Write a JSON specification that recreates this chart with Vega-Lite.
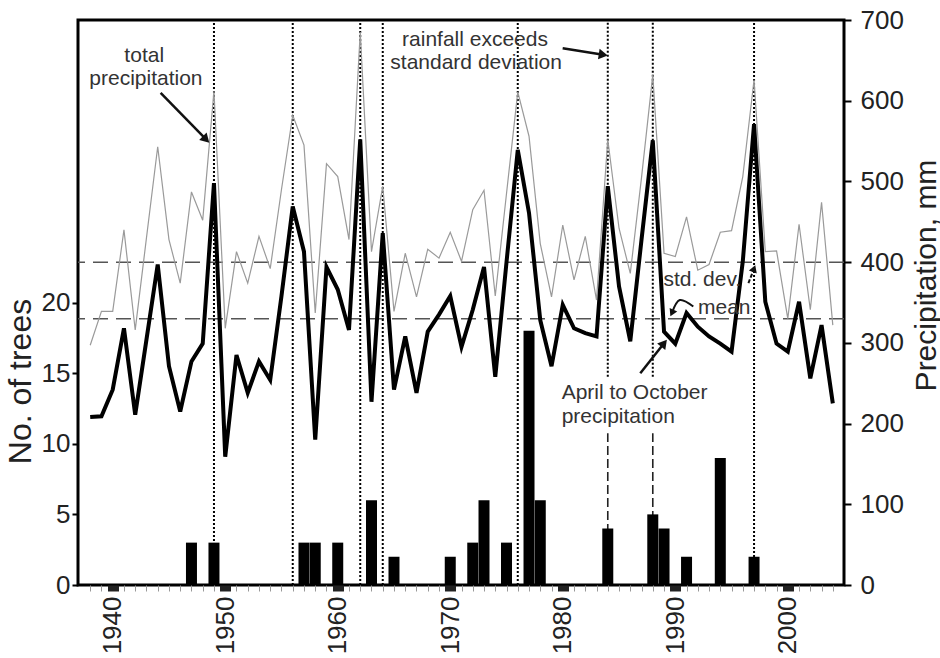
{
  "$schema": "https://vega.github.io/schema/vega-lite/v6.json",
  "width": 766,
  "height": 565,
  "autosize": {"type": "none"},
  "padding": {"left": 78, "top": 20, "right": 96, "bottom": 73},
  "background": "white",
  "config": {
    "font": "Liberation Sans",
    "view": {"stroke": "black", "strokeWidth": 3},
    "axis": {"labelColor": "#222", "titleColor": "#222", "titleFontWeight": "normal", "labelFont": "Liberation Sans", "titleFont": "Liberation Sans"}
  },
  "datasets": {
    "precip": [
      {"year": 1938, "total": 297, "aprOct": 208},
      {"year": 1939, "total": 339, "aprOct": 209},
      {"year": 1940, "total": 339, "aprOct": 242},
      {"year": 1941, "total": 440, "aprOct": 318},
      {"year": 1942, "total": 316, "aprOct": 211},
      {"year": 1943, "total": 430, "aprOct": 304},
      {"year": 1944, "total": 543, "aprOct": 397},
      {"year": 1945, "total": 428, "aprOct": 271},
      {"year": 1946, "total": 374, "aprOct": 215},
      {"year": 1947, "total": 487, "aprOct": 277},
      {"year": 1948, "total": 452, "aprOct": 299},
      {"year": 1949, "total": 612, "aprOct": 498},
      {"year": 1950, "total": 318, "aprOct": 159},
      {"year": 1951, "total": 413, "aprOct": 285},
      {"year": 1952, "total": 374, "aprOct": 238},
      {"year": 1953, "total": 432, "aprOct": 277},
      {"year": 1954, "total": 392, "aprOct": 254},
      {"year": 1955, "total": 490, "aprOct": 358},
      {"year": 1956, "total": 582, "aprOct": 469},
      {"year": 1957, "total": 545, "aprOct": 413},
      {"year": 1958, "total": 337, "aprOct": 180},
      {"year": 1959, "total": 522, "aprOct": 394},
      {"year": 1960, "total": 506, "aprOct": 366},
      {"year": 1961, "total": 428, "aprOct": 316},
      {"year": 1962, "total": 685, "aprOct": 552},
      {"year": 1963, "total": 413, "aprOct": 227},
      {"year": 1964, "total": 494, "aprOct": 436},
      {"year": 1965, "total": 339, "aprOct": 242},
      {"year": 1966, "total": 411, "aprOct": 308},
      {"year": 1967, "total": 357, "aprOct": 238},
      {"year": 1968, "total": 416, "aprOct": 314},
      {"year": 1969, "total": 405, "aprOct": 335},
      {"year": 1970, "total": 437, "aprOct": 358},
      {"year": 1971, "total": 401, "aprOct": 295},
      {"year": 1972, "total": 465, "aprOct": 341},
      {"year": 1973, "total": 489, "aprOct": 394},
      {"year": 1974, "total": 358, "aprOct": 258},
      {"year": 1975, "total": 485, "aprOct": 400},
      {"year": 1976, "total": 611, "aprOct": 539},
      {"year": 1977, "total": 556, "aprOct": 461},
      {"year": 1978, "total": 423, "aprOct": 328},
      {"year": 1979, "total": 357, "aprOct": 271},
      {"year": 1980, "total": 446, "aprOct": 347},
      {"year": 1981, "total": 378, "aprOct": 318},
      {"year": 1982, "total": 432, "aprOct": 312},
      {"year": 1983, "total": 353, "aprOct": 308},
      {"year": 1984, "total": 552, "aprOct": 494},
      {"year": 1985, "total": 442, "aprOct": 370},
      {"year": 1986, "total": 386, "aprOct": 302},
      {"year": 1987, "total": 505, "aprOct": 428},
      {"year": 1988, "total": 632, "aprOct": 551},
      {"year": 1989, "total": 411, "aprOct": 314},
      {"year": 1990, "total": 407, "aprOct": 299},
      {"year": 1991, "total": 456, "aprOct": 337},
      {"year": 1992, "total": 390, "aprOct": 320},
      {"year": 1993, "total": 397, "aprOct": 308},
      {"year": 1994, "total": 437, "aprOct": 299},
      {"year": 1995, "total": 439, "aprOct": 289},
      {"year": 1996, "total": 506, "aprOct": 401},
      {"year": 1997, "total": 626, "aprOct": 571},
      {"year": 1998, "total": 413, "aprOct": 351},
      {"year": 1999, "total": 414, "aprOct": 299},
      {"year": 2000, "total": 330, "aprOct": 289},
      {"year": 2001, "total": 447, "aprOct": 351},
      {"year": 2002, "total": 341, "aprOct": 256},
      {"year": 2003, "total": 474, "aprOct": 322},
      {"year": 2004, "total": 322, "aprOct": 225}
    ],
    "trees": [
      {"year": 1947, "trees": 3},
      {"year": 1949, "trees": 3},
      {"year": 1957, "trees": 3},
      {"year": 1958, "trees": 3},
      {"year": 1960, "trees": 3},
      {"year": 1963, "trees": 6},
      {"year": 1965, "trees": 2},
      {"year": 1970, "trees": 2},
      {"year": 1972, "trees": 3},
      {"year": 1973, "trees": 6},
      {"year": 1975, "trees": 3},
      {"year": 1977, "trees": 18},
      {"year": 1978, "trees": 6},
      {"year": 1984, "trees": 4},
      {"year": 1988, "trees": 5},
      {"year": 1989, "trees": 4},
      {"year": 1991, "trees": 2},
      {"year": 1994, "trees": 9},
      {"year": 1997, "trees": 2}
    ],
    "hlines": [
      {"name": "standard deviation", "mm": 400},
      {"name": "mean", "mm": 330}
    ],
    "vdotted": [
      {"year": 1949, "from": 0, "to": 700},
      {"year": 1956, "from": 0, "to": 700},
      {"year": 1962, "from": 0, "to": 700},
      {"year": 1964, "from": 0, "to": 700},
      {"year": 1976, "from": 0, "to": 700},
      {"year": 1984, "from": 258, "to": 700},
      {"year": 1988, "from": 258, "to": 700},
      {"year": 1997, "from": 0, "to": 700}
    ],
    "vdashed": [
      {"year": 1984, "from": 0, "to": 188},
      {"year": 1988, "from": 0, "to": 188}
    ],
    "centerLabels": [
      {"x": 1942.8, "y": 656, "label": "total"},
      {"x": 1942.95, "y": 627, "label": "precipitation"},
      {"x": 1972.2, "y": 675, "label": "rainfall exceeds"},
      {"x": 1972.3, "y": 646.5, "label": "standard deviation"},
      {"x": 1992.4, "y": 378, "label": "std. dev."},
      {"x": 1994.35, "y": 343, "label": "mean"}
    ],
    "leftLabels": [
      {"x": 1979.9, "y": 238, "label": "April to October"},
      {"x": 1979.9, "y": 208.5, "label": "precipitation"}
    ],
    "arrows": [
      {"id": "total", "x": 1944.26, "y": 609.6, "x2": 1948.3, "y2": 552},
      {"id": "rainfall", "x": 1979.99, "y": 665, "x2": 1983.6, "y2": 657},
      {"id": "april", "x": 1986.89, "y": 262.3, "x2": 1989.0, "y2": 299.5}
    ],
    "stdArrow": [
      {"x": 1996.5, "y": 374, "x2": 1997.0, "y2": 392}
    ],
    "meanArrow": [
      {"i": 1, "x": 1991.6, "y": 345},
      {"i": 2, "x": 1990.4, "y": 353},
      {"i": 3, "x": 1989.7, "y": 337}
    ]
  },
  "layer": [
    {
      "data": {"name": "hlines"},
      "mark": {"type": "rule", "color": "#555", "strokeWidth": 1.5, "strokeDash": [15, 8]},
      "encoding": {
        "y": {"field": "mm", "type": "quantitative", "scale": {"domain": [0, 700], "nice": false}, "axis": null}
      }
    },
    {
      "data": {"name": "vdotted"},
      "mark": {"type": "rule", "color": "black", "strokeWidth": 2, "strokeDash": [2, 2]},
      "encoding": {
        "x": {"field": "year", "type": "quantitative", "scale": {"domain": [1937.36, 2004.55], "nice": false, "zero": false}, "axis": null},
        "y": {"field": "from", "type": "quantitative", "scale": {"domain": [0, 700], "nice": false}, "axis": null},
        "y2": {"field": "to"}
      }
    },
    {
      "data": {"name": "vdashed"},
      "mark": {"type": "rule", "color": "#222", "strokeWidth": 1.6, "strokeDash": [9, 4]},
      "encoding": {
        "x": {"field": "year", "type": "quantitative", "scale": {"domain": [1937.36, 2004.55], "nice": false, "zero": false}, "axis": null},
        "y": {"field": "from", "type": "quantitative", "scale": {"domain": [0, 700], "nice": false}, "axis": null},
        "y2": {"field": "to"}
      }
    },
    {
      "data": {"name": "precip"},
      "mark": {"type": "line", "color": "#9a9a9a", "strokeWidth": 1.2},
      "encoding": {
        "x": {"field": "year", "type": "quantitative", "scale": {"domain": [1937.36, 2004.55], "nice": false, "zero": false}, "axis": null},
        "y": {
          "field": "total", "type": "quantitative",
          "scale": {"domain": [0, 700], "nice": false},
          "axis": {
            "orient": "right", "values": [0, 100, 200, 300, 400, 500, 600, 700],
            "title": "Precipitation, mm", "titleAngle": 270, "titleFontSize": 30,
            "titleX": 82, "titleY": 255, "titleAlign": "center", "titleBaseline": "middle",
            "labelFontSize": 26, "labelPadding": 9, "tickSize": 7, "tickWidth": 2, "tickColor": "black",
            "domain": false, "grid": false
          }
        }
      }
    },
    {
      "data": {"name": "precip"},
      "mark": {"type": "line", "color": "black", "strokeWidth": 4},
      "encoding": {
        "x": {
          "field": "year", "type": "quantitative",
          "scale": {"domain": [1937.36, 2004.55], "nice": false, "zero": false},
          "axis": {
            "orient": "bottom",
            "values": [1938, 1939, 1941, 1942, 1943, 1944, 1945, 1946, 1947, 1948, 1949, 1951, 1952, 1953, 1954, 1955, 1956, 1957, 1958, 1959, 1961, 1962, 1963, 1964, 1965, 1966, 1967, 1968, 1969, 1971, 1972, 1973, 1974, 1975, 1976, 1977, 1978, 1979, 1981, 1982, 1983, 1984, 1985, 1986, 1987, 1988, 1989, 1991, 1992, 1993, 1994, 1995, 1996, 1997, 1998, 1999, 2001, 2002, 2003, 2004],
            "labels": false, "tickSize": 6, "tickWidth": 1, "tickColor": "#999",
            "domain": false, "grid": false, "title": null
          }
        },
        "y": {"field": "aprOct", "type": "quantitative", "scale": {"domain": [0, 700], "nice": false}, "axis": null}
      }
    },
    {
      "data": {"name": "centerLabels"},
      "mark": {"type": "text", "fontSize": 21, "color": "#333", "align": "center", "baseline": "middle"},
      "encoding": {
        "x": {"field": "x", "type": "quantitative", "scale": {"domain": [1937.36, 2004.55], "nice": false, "zero": false}, "axis": null},
        "y": {"field": "y", "type": "quantitative", "scale": {"domain": [0, 700], "nice": false}, "axis": null},
        "text": {"field": "label"}
      }
    },
    {
      "data": {"name": "leftLabels"},
      "mark": {"type": "text", "fontSize": 21, "color": "#333", "align": "left", "baseline": "middle"},
      "encoding": {
        "x": {"field": "x", "type": "quantitative", "scale": {"domain": [1937.36, 2004.55], "nice": false, "zero": false}, "axis": null},
        "y": {"field": "y", "type": "quantitative", "scale": {"domain": [0, 700], "nice": false}, "axis": null},
        "text": {"field": "label"}
      }
    },
    {
      "data": {"name": "arrows"},
      "mark": {"type": "rule", "color": "#111", "strokeWidth": 2.5},
      "encoding": {
        "x": {"field": "x", "type": "quantitative", "scale": {"domain": [1937.36, 2004.55], "nice": false, "zero": false}, "axis": null},
        "y": {"field": "y", "type": "quantitative", "scale": {"domain": [0, 700], "nice": false}, "axis": null},
        "x2": {"field": "x2"},
        "y2": {"field": "y2"}
      }
    },
    {
      "data": {"name": "stdArrow"},
      "mark": {"type": "rule", "color": "#111", "strokeWidth": 2, "strokeDash": [4, 2]},
      "encoding": {
        "x": {"field": "x", "type": "quantitative", "scale": {"domain": [1937.36, 2004.55], "nice": false, "zero": false}, "axis": null},
        "y": {"field": "y", "type": "quantitative", "scale": {"domain": [0, 700], "nice": false}, "axis": null},
        "x2": {"field": "x2"},
        "y2": {"field": "y2"}
      }
    },
    {
      "data": {"name": "meanArrow"},
      "mark": {"type": "line", "color": "#111", "strokeWidth": 2, "interpolate": "cardinal"},
      "encoding": {
        "x": {"field": "x", "type": "quantitative", "scale": {"domain": [1937.36, 2004.55], "nice": false, "zero": false}, "axis": null},
        "y": {"field": "y", "type": "quantitative", "scale": {"domain": [0, 700], "nice": false}, "axis": null},
        "order": {"field": "i"}
      }
    },
    {
      "data": {"name": "arrows"},
      "transform": [{"filter": "datum.id === 'total'"}],
      "mark": {"type": "point", "shape": "triangle-right", "filled": true, "color": "#111", "opacity": 1, "size": 110, "angle": 45},
      "encoding": {
        "x": {"field": "x2", "type": "quantitative", "scale": {"domain": [1937.36, 2004.55], "nice": false, "zero": false}, "axis": null},
        "y": {"field": "y2", "type": "quantitative", "scale": {"domain": [0, 700], "nice": false}, "axis": null}
      }
    },
    {
      "data": {"name": "arrows"},
      "transform": [{"filter": "datum.id === 'rainfall'"}],
      "mark": {"type": "point", "shape": "triangle-right", "filled": true, "color": "#111", "opacity": 1, "size": 110, "angle": 9},
      "encoding": {
        "x": {"field": "x2", "type": "quantitative", "scale": {"domain": [1937.36, 2004.55], "nice": false, "zero": false}, "axis": null},
        "y": {"field": "y2", "type": "quantitative", "scale": {"domain": [0, 700], "nice": false}, "axis": null}
      }
    },
    {
      "data": {"name": "arrows"},
      "transform": [{"filter": "datum.id === 'april'"}],
      "mark": {"type": "point", "shape": "triangle-right", "filled": true, "color": "#111", "opacity": 1, "size": 110, "angle": -51},
      "encoding": {
        "x": {"field": "x2", "type": "quantitative", "scale": {"domain": [1937.36, 2004.55], "nice": false, "zero": false}, "axis": null},
        "y": {"field": "y2", "type": "quantitative", "scale": {"domain": [0, 700], "nice": false}, "axis": null}
      }
    },
    {
      "data": {"name": "stdArrow"},
      "mark": {"type": "point", "shape": "triangle-right", "filled": true, "color": "#111", "opacity": 1, "size": 70, "angle": -70},
      "encoding": {
        "x": {"field": "x2", "type": "quantitative", "scale": {"domain": [1937.36, 2004.55], "nice": false, "zero": false}, "axis": null},
        "y": {"field": "y2", "type": "quantitative", "scale": {"domain": [0, 700], "nice": false}, "axis": null}
      }
    },
    {
      "data": {"name": "meanArrow"},
      "transform": [{"filter": "datum.i === 3"}],
      "mark": {"type": "point", "shape": "triangle-right", "filled": true, "color": "#111", "opacity": 1, "size": 70, "angle": 115},
      "encoding": {
        "x": {"field": "x", "type": "quantitative", "scale": {"domain": [1937.36, 2004.55], "nice": false, "zero": false}, "axis": null},
        "y": {"field": "y", "type": "quantitative", "scale": {"domain": [0, 700], "nice": false}, "axis": null}
      }
    },
    {
      "data": {"name": "trees"},
      "mark": {"type": "bar", "color": "black", "size": 11},
      "encoding": {
        "x": {
          "field": "year", "type": "quantitative",
          "scale": {"domain": [1937.36, 2004.55], "nice": false, "zero": false},
          "axis": {
            "orient": "bottom",
            "values": [1940, 1950, 1960, 1970, 1980, 1990, 2000],
            "format": "d",
            "labelAngle": 270,
            "labelFontSize": 26,
            "labelPadding": 5,
            "tickSize": 6,
            "tickWidth": 11,
            "tickColor": "#222",
            "domain": false,
            "grid": false,
            "title": null
          }
        },
        "y": {
          "field": "trees", "type": "quantitative",
          "scale": {"domain": [0, 40], "nice": false},
          "axis": {
            "orient": "left", "values": [0, 5, 10, 15, 20],
            "title": "No. of trees", "titleFontSize": 32, "titlePadding": 4, "titleY": 361,
            "labelFontSize": 26, "labelPadding": 2, "tickSize": 6, "tickWidth": 2, "tickColor": "black",
            "domain": false, "grid": false
          }
        }
      }
    }
  ],
  "resolve": {"scale": {"y": "independent"}, "axis": {"x": "independent"}}
}
